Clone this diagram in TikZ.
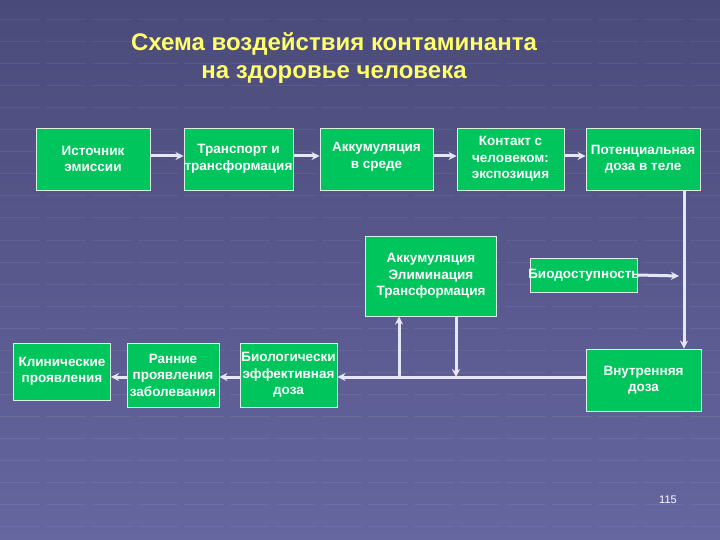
\documentclass[tikz,border=0pt]{standalone}
\usepackage{fontspec}
\setmainfont{Liberation Sans}
\usetikzlibrary{arrows.meta}
\definecolor{bgtop}{RGB}{74,74,122}
\definecolor{bgbot}{RGB}{102,102,160}
\definecolor{boxgreen}{RGB}{0,196,92}
\definecolor{boxline}{RGB}{215,240,225}
\definecolor{conncol}{RGB}{230,230,245}
\definecolor{titlecol}{RGB}{255,255,110}
\tikzset{
  box/.style={draw=boxline, line width=0.9pt, fill=boxgreen, inner sep=0pt},
  boxtext/.style={text=white, font=\bfseries\fontsize{13.5}{16.5}\selectfont, align=center, inner sep=0pt},
  conn/.style={draw=conncol, line width=3pt, -{Stealth[length=8pt,width=8pt]}},
  gridline/.style={draw=white, opacity=0.07, line width=1pt, dash pattern=on 40pt off 6pt},
}
\begin{document}
\begin{tikzpicture}[x=1pt,y=-1pt]
\useasboundingbox (0,0) rectangle (720,540);
\shade[top color=bgtop, bottom color=bgbot] (0,0) rectangle (720,540);
\foreach \yy in {20,42,...,540} {\draw[gridline] (0,\yy) -- (720,\yy);}
% title
\node[text=titlecol, font=\bfseries\fontsize{24}{28}\selectfont, align=center] (title) at (334,58) {Схема воздействия контаминанта\\на здоровье человека};
% top row
\node[box, minimum width=114pt, minimum height=62pt] (b1) at (93,159) {};
\node[boxtext] (t1) at (b1) {Источник\\эмиссии};
\node[box, minimum width=109pt, minimum height=62pt] (b2) at (238.5,159) {};
\node[boxtext] (t2) at (b2) {Транспорт и\\трансформация};
\node[box, minimum width=113pt, minimum height=62pt] (b3) at (376.5,159) {};
\node[boxtext] (t3) at ([yshift=2pt]b3) {Аккумуляция\\в среде};
\node[box, minimum width=107pt, minimum height=62pt] (b4) at (510.5,159) {};
\node[boxtext] (t4) at (b4) {Контакт с\\человеком:\\экспозиция};
\node[box, minimum width=114pt, minimum height=62pt] (b5) at (643,159) {};
\node[boxtext] (t5) at (b5) {Потенциальная\\доза в теле};
% middle
\node[box, minimum width=131pt, minimum height=80pt] (mid) at (431,276) {};
\node[boxtext] (tm) at (mid) {Аккумуляция\\Элиминация\\Трансформация};
\node[box, minimum width=107pt, minimum height=34pt] (bio) at (584,275) {};
\node[boxtext] (tbio) at (bio) {Биодоступность};
% bottom row
\node[box, minimum width=97pt, minimum height=57pt] (b7) at (62,371.5) {};
\node[boxtext] (t7) at (b7) {Клинические\\проявления};
\node[box, minimum width=92pt, minimum height=64pt] (b8) at (173,375) {};
\node[boxtext] (t8) at (b8) {Ранние\\проявления\\заболевания};
\node[box, minimum width=97pt, minimum height=64pt] (b9) at (288.5,375) {};
\node[boxtext] (t9) at (b9) {Биологически\\эффективная\\доза};
\node[box, minimum width=115pt, minimum height=62pt] (b10) at (643.5,380) {};
\node[boxtext] (t10) at (b10) {Внутренняя\\доза};
% page number
\node[text=white, font=\fontsize{11}{13}\selectfont] (pg) at (668,500) {115};
% connectors top row
\draw[conn] ([yshift=3pt]b1.east) -- ([yshift=3pt]b2.west);
\draw[conn] ([yshift=3pt]b2.east) -- ([yshift=3pt]b3.west);
\draw[conn] ([yshift=3pt]b3.east) -- ([yshift=3pt]b4.west);
\draw[conn] ([yshift=3pt]b4.east) -- ([yshift=3pt]b5.west);
% right vertical
\draw[conn] ([xshift=41pt]b5.south) -- ([xshift=40.5pt]b10.north);
\coordinate (bioend) at (679,276);
\draw[conn] (bio.east) -- (bioend);
% bottom horizontal
\coordinate (h) at (0,377);
\draw[conn] (b10.west |- h) -- (b9.east |- h);
\draw[conn] (b9.west |- h) -- (b8.east |- h);
\draw[conn] (b8.west |- h) -- (b7.east |- h);
\coordinate (up) at (399,377);
\draw[conn] (up) -- (up |- mid.south);
\coordinate (dn) at (456,316);
\draw[conn] (dn |- mid.south) -- (dn |- h);
\end{tikzpicture}
\end{document}
